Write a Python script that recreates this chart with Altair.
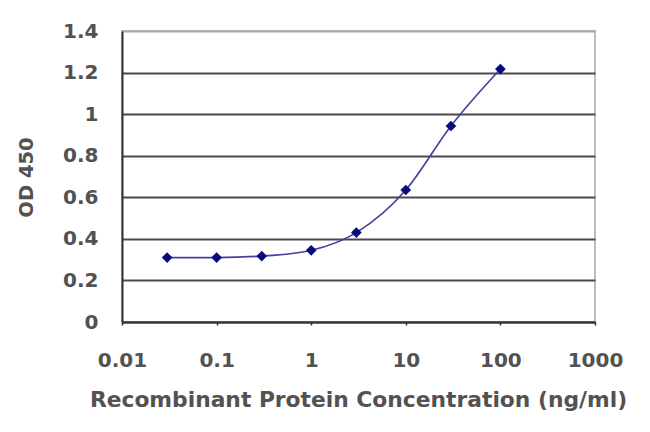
import altair as alt
import pandas as pd

conc = [0.03, 0.1, 0.3, 1, 3, 10, 30, 100]
od = [0.31, 0.31, 0.317, 0.345, 0.43, 0.635, 0.943, 1.217]
x_ticks = [0.01, 0.1, 1, 10, 100, 1000]
y_ticks = [0, 0.2, 0.4, 0.6, 0.8, 1.0, 1.2, 1.4]

df = pd.DataFrame({"conc": conc, "od": od})

FONT = "DejaVu Sans"
TXT = "#525252"

x = alt.X(
    "conc:Q",
    scale=alt.Scale(type="log", domain=[0.01, 1000]),
    axis=alt.Axis(
        values=x_ticks, format="~g", grid=False,
        title="Recombinant Protein Concentration (ng/ml)",
        titleFont=FONT, titleFontSize=21.8, titleFontWeight="bold", titleColor=TXT,
        titleX=236, titleY=84, titleBaseline="alphabetic",
        labelFont=FONT, labelFontSize=20, labelFontWeight="bold", labelColor=TXT, labelPadding=25,
        labelFlush=False, labelOverlap=False,
        tickSize=3, tickColor="#333", tickWidth=1.5,
        domainColor="#333", domainWidth=2,
    ),
)
y = alt.Y(
    "od:Q",
    scale=alt.Scale(domain=[0, 1.4]),
    axis=alt.Axis(
        values=y_ticks, format="~g",
        title="OD 450",
        titleFont=FONT, titleFontSize=19.5, titleFontWeight="bold", titleColor=TXT,
        titleX=-96, titleY=146, titleBaseline="middle", titleAngle=-90,
        labelFont=FONT, labelFontSize=20, labelFontWeight="bold", labelColor=TXT, labelPadding=24,
        labelOverlap=False,
        ticks=False,
        domainColor="#333", domainWidth=2,
        grid=True,
        gridColor=alt.condition("datum.value >= 1.39", alt.value("#a8a8a8"), alt.value("#4a4a4a")),
        gridWidth=1.8,
    ),
)

line = alt.Chart(df).mark_line(color="#4444a0", strokeWidth=1.7, interpolate="monotone").encode(x=x, y=y)
pts = alt.Chart(df).mark_point(shape="diamond", filled=True, color="#0a0a80", size=115, opacity=1).encode(x=x, y=y)

chart = (
    alt.layer(line, pts)
    .properties(
        width=473, height=291,
        autosize=alt.AutoSizeParams(type="none"),
        padding={"left": 114, "top": 23, "right": 31, "bottom": 94},
        background="white",
    )
    .configure_view(stroke="#a8a8a8", strokeWidth=1.5)
)

chart.save("out.html", embed_options={"renderer": "svg", "actions": False})
